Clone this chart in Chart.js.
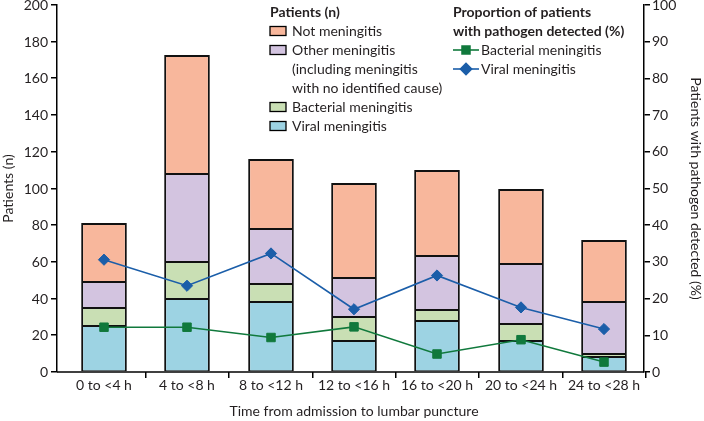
<!DOCTYPE html>
<html>
<head>
<meta charset="utf-8">
<script src="https://cdn.jsdelivr.net/npm/chart.js@4"></script>
<style>
  html, body { margin: 0; padding: 0; background: #fff; }
  #chart { display: block; }
</style>
</head>
<body>
<canvas id="chart" width="704" height="421"></canvas>
<script>
// categories on the x axis
const categories = ["0 to <4 h", "4 to <8 h", "8 to <12 h", "12 to <16 h", "16 to <20 h", "20 to <24 h", "24 to <28 h"];

// patients (n), stacked from the bottom
const viral = [25, 40, 38, 17, 28, 17, 8];
const bacterial = [10, 20, 10, 13, 6, 9, 2];
const otherMeningitis = [14, 48, 30, 21, 29, 33, 28];
const notMeningitis = [32, 65, 38, 52, 47, 41, 34];

// proportion of patients with pathogen detected (%)
const viralPct = [30.6, 23.5, 32.3, 17.1, 26.3, 17.6, 11.7];
const bacterialPct = [12.2, 12.2, 9.4, 12.3, 4.9, 8.8, 2.7];

// axis ticks
const leftTicks = [0, 20, 40, 60, 80, 100, 120, 140, 160, 180, 200];
const rightTicks = [0, 10, 20, 30, 40, 50, 60, 70, 80, 90, 100];

const FONT = "Lato";
const TXT = "#231f20";
const colViral = "#9dd3e3";
const colBact = "#c9dfb4";
const colOther = "#d3c4e0";
const colNot = "#f8b79c";
const colBlue = "#1b5ea9";
const colGreen = "#10793c";

// plot box of the original figure
const PLOT_TOP = 5;
const BARS_LEFT = 62;   // category band starts a bit right of the y axis
const BARS_RIGHT = 646;

// nudge scales after layout so the plot sits like the original
const fitPlugin = {
  id: "fitPlot",
  afterLayout(chart) {
    const x = chart.scales.x;
    x.left = BARS_LEFT;
    x.right = BARS_RIGHT;
    x.width = x.right - x.left;
    x.configure();
    ["y", "y2"].forEach((id) => {
      const s = chart.scales[id];
      s.top = PLOT_TOP;
      s.height = s.bottom - s.top;
      s.configure();
    });
    chart.chartArea.top = PLOT_TOP;
    chart.chartArea.height = chart.chartArea.bottom - PLOT_TOP;
  },
  afterDatasetsDraw(chart) {
    // x axis line, from y axis to y2 axis
    const a = chart.chartArea;
    const ctx = chart.ctx;
    ctx.save();
    ctx.strokeStyle = "#000";
    ctx.lineWidth = 1.5;
    ctx.beginPath();
    ctx.moveTo(a.left, a.bottom);
    ctx.lineTo(a.right, a.bottom);
    ctx.stroke();
    ctx.restore();
  },
};

// legend drawn by hand, it sits inside the plot
const legendPlugin = {
  id: "handLegend",
  afterDraw(chart) {
    const ctx = chart.ctx;
    ctx.save();
    ctx.textBaseline = "middle";
    ctx.fillStyle = TXT;

    // left block
    ctx.font = "bold 14px " + FONT;
    ctx.fillText("Patients (n)", 270, 12);
    ctx.font = "14px " + FONT;
    const rows = [
      [colNot, "Not meningitis", 31],
      [colOther, "Other meningitis", 50],
      [null, "(including meningitis", 69],
      [null, "with no identified cause)", 88],
      [colBact, "Bacterial meningitis", 107],
      [colViral, "Viral meningitis", 126],
    ];
    rows.forEach(([c, t, y]) => {
      if (c) {
        ctx.fillStyle = c;
        ctx.fillRect(270, y - 4.5, 16, 9);
        ctx.strokeStyle = "#000";
        ctx.lineWidth = 1.3;
        ctx.strokeRect(270, y - 4.5, 16, 9);
      }
      ctx.fillStyle = TXT;
      ctx.fillText(t, 292, y);
    });

    // right block
    ctx.font = "bold 14px " + FONT;
    ctx.fillText("Proportion of patients", 453, 12);
    ctx.fillText("with pathogen detected (%)", 453, 31);
    ctx.font = "14px " + FONT;
    const lrows = [
      [colGreen, "rect", "Bacterial meningitis", 50],
      [colBlue, "rectRot", "Viral meningitis", 69],
    ];
    lrows.forEach(([c, s, t, y]) => {
      ctx.strokeStyle = c;
      ctx.lineWidth = 1.6;
      ctx.beginPath();
      ctx.moveTo(453, y);
      ctx.lineTo(479, y);
      ctx.stroke();
      ctx.fillStyle = c;
      Chart.helpers.drawPoint(ctx, { pointStyle: s, radius: 5.6, borderWidth: 1 }, 466, y);
      ctx.fillStyle = TXT;
      ctx.fillText(t, 481, y);
    });
    ctx.restore();
  },
};

const barCommon = {
  type: "bar",
  yAxisID: "y",
  borderColor: "#111",
  borderWidth: { top: 1, bottom: 1, left: 2, right: 2 },
  borderSkipped: false,
  inflateAmount: 0,
  order: 1,
  barPercentage: 0.55,
  categoryPercentage: 1,
};

new Chart(document.getElementById("chart"), {
  data: {
    labels: categories,
    datasets: [
      {
        type: "line", label: "Bacterial meningitis (%)", data: bacterialPct, yAxisID: "y2",
        borderColor: colGreen, backgroundColor: colGreen, borderWidth: 1.6,
        pointStyle: "rect", pointRadius: 6, pointBorderWidth: 1, order: 0,
      },
      {
        type: "line", label: "Viral meningitis (%)", data: viralPct, yAxisID: "y2",
        borderColor: colBlue, backgroundColor: colBlue, borderWidth: 1.6,
        pointStyle: "rectRot", pointRadius: 5.6, pointBorderWidth: 1, order: 0,
      },
      { ...barCommon, label: "Viral meningitis", data: viral, backgroundColor: colViral },
      { ...barCommon, label: "Bacterial meningitis", data: bacterial, backgroundColor: colBact },
      { ...barCommon, label: "Other meningitis", data: otherMeningitis, backgroundColor: colOther },
      {
        ...barCommon, label: "Not meningitis", data: notMeningitis, backgroundColor: colNot,
        borderWidth: { top: 2, bottom: 1, left: 2, right: 2 },
      },
    ],
  },
  options: {
    responsive: false,
    animation: false,
    devicePixelRatio: 1,
    layout: { padding: 0 },
    plugins: { legend: { display: false }, tooltip: { enabled: false } },
    scales: {
      x: {
        stacked: true,
        alignToPixels: true,
        grid: {
          drawOnChartArea: false, offset: true, tickLength: 6, lineWidth: 1.5,
          color: (c) => (c.index === 0 || c.index === categories.length ? "rgba(0,0,0,0)" : "#000"),
        },
        border: { display: false },
        ticks: { color: TXT, font: { family: FONT, size: 14 }, padding: -1, maxRotation: 0 },
        title: { display: true, text: "Time from admission to lumbar puncture", color: TXT, font: { family: FONT, size: 14 }, padding: { top: 4, bottom: 1.5 } },
        afterFit: (s) => { s.height = 49; },
      },
      y: {
        stacked: true,
        position: "left",
        alignToPixels: true,
        min: 0, max: 200,
        afterBuildTicks: (s) => { s.ticks = leftTicks.map((v) => ({ value: v })); },
        grid: { drawOnChartArea: false, tickLength: 6, color: "#000", lineWidth: 1.5 },
        border: { color: "#000", width: 1.5 },
        ticks: { color: TXT, font: { family: FONT, size: 14 }, padding: 3 },
        title: { display: true, text: "Patients (n)", color: TXT, font: { family: FONT, size: 14 }, padding: 0 },
        afterFit: (s) => { s.width = 57; },
      },
      y2: {
        position: "right",
        min: 0, max: 100,
        afterBuildTicks: (s) => { s.ticks = rightTicks.map((v) => ({ value: v })); },
        grid: { drawOnChartArea: false, tickLength: 6, color: "#000", lineWidth: 1.5 },
        border: { color: "#000", width: 1.5 },
        ticks: { color: TXT, font: { family: FONT, size: 14 }, padding: 2 },
        title: { display: true, text: "Patients with pathogen detected (%)", color: TXT, font: { family: FONT, size: 14 }, padding: 0 },
        afterFit: (s) => { s.width = 60; },
      },
    },
  },
  plugins: [fitPlugin, legendPlugin],
});
</script>
</body>
</html>
